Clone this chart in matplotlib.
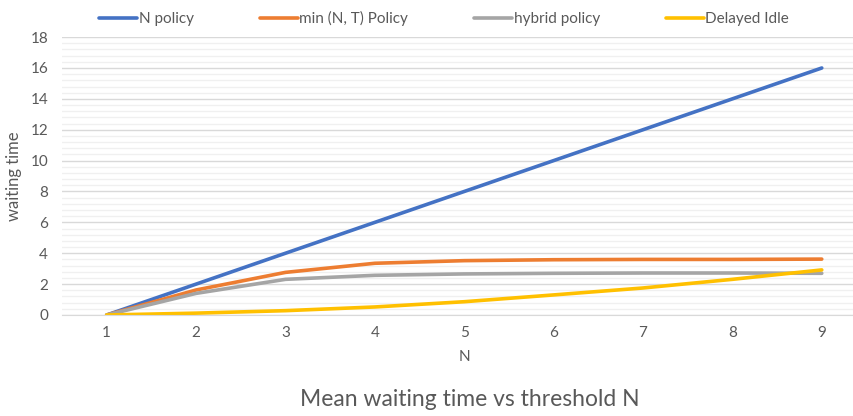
import matplotlib.pyplot as plt
import numpy as np

plt.rcParams['font.family'] = ['Lato', 'DejaVu Sans']

# threshold N (category axis)
n_values = [1, 2, 3, 4, 5, 6, 7, 8, 9]

# mean waiting time per policy
n_policy = [0, 2, 4, 6, 8, 10, 12, 14, 16]
min_nt_policy = [0, 1.62, 2.76, 3.35, 3.52, 3.58, 3.6, 3.6, 3.62]
hybrid_policy = [0, 1.4, 2.31, 2.57, 2.66, 2.7, 2.72, 2.72, 2.7]
delayed_idle = [0, 0.12, 0.28, 0.52, 0.86, 1.3, 1.75, 2.31, 2.92]

series_names = ['N policy', 'min (N, T) Policy', 'hybrid policy', 'Delayed Idle']
series_colors = ['#4472C4', '#ED7D31', '#A5A5A5', '#FFC000']

text_color = '#595959'

fig = plt.figure(figsize=(8.54, 4.16), dpi=100)
ax = fig.add_axes([0.0726, 0.2428, 0.942, 0.668])

for vals, name, col in zip([n_policy, min_nt_policy, hybrid_policy, delayed_idle],
                           series_names, series_colors):
    ax.plot(n_values, vals, color=col, lw=2.6, label=name,
            solid_capstyle='round', solid_joinstyle='round')

ax.set_xlim(0.5, 9.5)
ax.set_ylim(0, 18)
ax.set_xticks(n_values)
ax.set_yticks(np.arange(0, 19, 2))
ax.set_yticks(np.arange(0, 18.01, 0.4), minor=True)
ax.grid(axis='y', which='major', color='#d9d9d9', lw=1)
ax.grid(axis='y', which='minor', color='#f0f0f0', lw=1)
ax.set_axisbelow(True)

for s in ['top', 'right', 'left']:
    ax.spines[s].set_visible(False)
ax.spines['bottom'].set_color('#d9d9d9')

ax.tick_params(axis='both', which='both', length=0, labelsize=11, labelcolor=text_color)
ax.tick_params(axis='y', pad=10)
ax.tick_params(axis='x', pad=8)

ax.set_xlabel('N', fontsize=11, color=text_color, labelpad=7)
ax.set_ylabel('waiting time', fontsize=12, color=text_color, labelpad=6)

fig.text(0.55, 0.04, 'Mean waiting time vs threshold N', fontsize=16.5,
         color=text_color, ha='center', va='center')

fig.legend(loc='center', bbox_to_anchor=(0.52, 0.955), ncol=4, frameon=False,
           fontsize=11, handlelength=2.5, handletextpad=0.1, columnspacing=4.3,
           labelcolor=text_color)

fig.savefig('out.png', dpi=100)
